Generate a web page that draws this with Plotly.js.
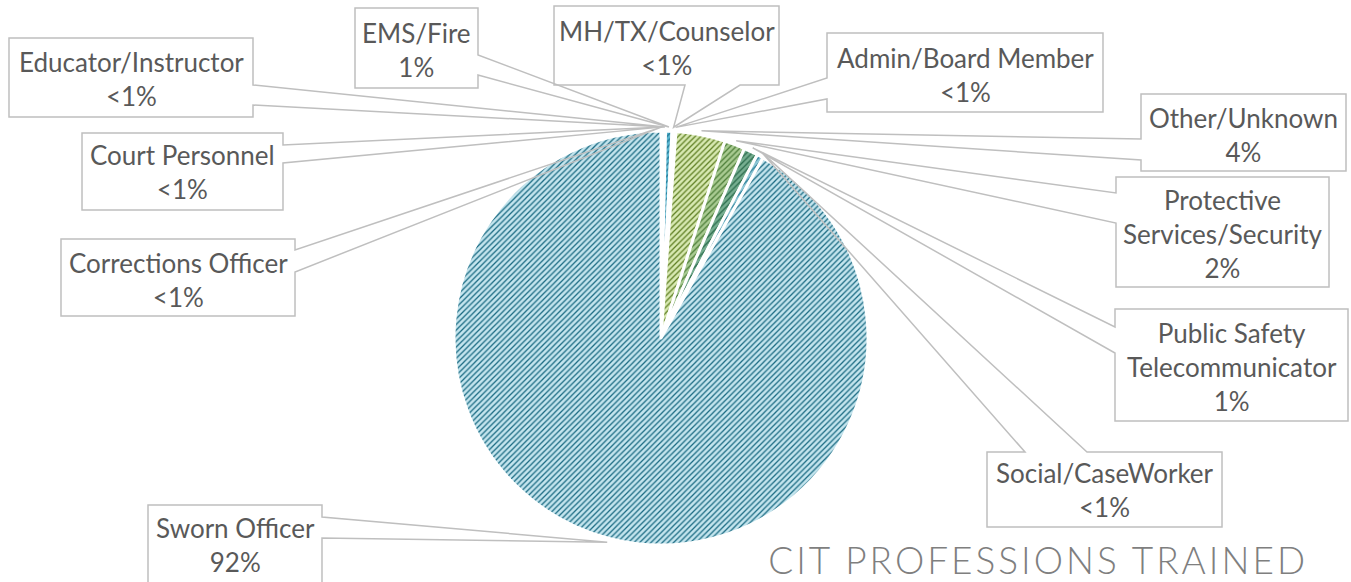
<!DOCTYPE html>
<html>
<head>
<meta charset="utf-8">
<script src="https://cdn.plot.ly/plotly-3.0.1.min.js"></script>
<style>
  body { margin: 0; background: #ffffff; }
  .gtitle { letter-spacing: 3px; }
</style>
</head>
<body>
<div id="chart" style="width:1351px;height:582px;"></div>
<script>
// ---- data ----
const categories = ["Corrections Officer", "Court Personnel", "Educator/Instructor", "EMS/Fire",
  "MH/TX/Counselor", "Admin/Board Member", "Other/Unknown", "Protective Services/Security",
  "Public Safety Telecommunicator", "Social/CaseWorker", "Sworn Officer"];
const values = [0.15, 0.1, 0.1, 0.5, 0.2, 0.1, 3.85, 1.6, 1.1, 0.5, 91.8];
const pctLabels = ["<1%", "<1%", "<1%", "1%", "<1%", "<1%", "4%", "2%", "1%", "<1%", "92%"];
const displayNames = ["Corrections Officer", "Court Personnel", "Educator/Instructor", "EMS/Fire",
  "MH/TX/Counselor", "Admin/Board Member", "Other/Unknown", "Protective<br>Services/Security",
  "Public Safety<br>Telecommunicator", "Social/CaseWorker", "Sworn Officer"];
const bgColors = ["#9fd3e2", "#8ccbdc", "#b3dde8", "#5cb8d2", "#7cc4d8", "#a6d8e5",
  "#d8e9b2", "#a9cb92", "#76ae90", "#8fc7d6", "#c4e5ee"];
const fgColors = ["#2b7f98", "#2b7f98", "#2b7f98", "#1f7390", "#2b7f98", "#2b7f98",
  "#5e7e22", "#4c7d38", "#2a6b4b", "#2b7f98", "#1a6a82"];
const chartTitle = "CIT PROFESSIONS TRAINED";

// ---- layout geometry (pixels) ----
const W = 1351, H = 582;
const CX = 661, CY = 338, R = 207;
const domX = [(CX - R) / W, (CX + R) / W];
const domY = [1 - (CY + R) / H, 1 - (CY - R) / H];

// callout boxes: [x0, y0, x1, y1], side of the pointer, two attach coords along that side, text centre y
const callouts = [
  { box: [61, 239, 295, 316], side: "right", a: [250, 272], ty: 279.5 },
  { box: [82, 133, 283, 210], side: "right", a: [145, 163], ty: 171.5 },
  { box: [9, 38, 253, 117], side: "right", a: [85, 105], ty: 79 },
  { box: [355, 8, 478, 88], side: "right", a: [55, 75], ty: 49.5 },
  { box: [554, 6, 779, 85], side: "bottom", a: [685, 740], ty: 47.5 },
  { box: [827, 33, 1103, 112], side: "left", a: [78, 99], ty: 74.5 },
  { box: [1141, 94, 1346, 171], side: "left", a: [139, 160], ty: 134.5 },
  { box: [1116, 177, 1329, 287], side: "left", a: [193, 223], ty: 233.5 },
  { box: [1115, 309, 1348, 421], side: "left", a: [327, 353], ty: 366.5 },
  { box: [987, 452, 1222, 527], side: "top", a: [1025, 1087], ty: 490 },
  { box: [148, 505, 322, 592], side: "right", a: [517, 538], ty: 545 }
];

const total = values.reduce((s, v) => s + v, 0);
const px = x => x / W;
const py = y => 1 - y / H;

const shapes = [];
const annotations = [];
let cum = 0;
values.forEach((v, i) => {
  const mid = (cum + v / 2) / total * 2 * Math.PI;
  cum += v;
  const k = 1.02;
  const tx = CX + R * k * Math.sin(mid);
  const ty = CY - R * k * Math.cos(mid);
  const c = callouts[i];
  const [x0, y0, x1, y1] = c.box;
  const [a1, a2] = c.a;
  let pts;
  if (c.side === "right") {
    pts = [[x0, y0], [x1, y0], [x1, a1], [tx, ty], [x1, a2], [x1, y1], [x0, y1]];
  } else if (c.side === "left") {
    pts = [[x0, y0], [x1, y0], [x1, y1], [x0, y1], [x0, a2], [tx, ty], [x0, a1]];
  } else if (c.side === "top") {
    pts = [[x0, y0], [a1, y0], [tx, ty], [a2, y0], [x1, y0], [x1, y1], [x0, y1]];
  } else {
    pts = [[x0, y0], [x1, y0], [x1, y1], [a2, y1], [tx, ty], [a1, y1], [x0, y1]];
  }
  const path = "M " + pts.map(p => px(p[0]).toFixed(5) + "," + py(p[1]).toFixed(5)).join(" L ") + " Z";
  shapes.push({
    type: "path", xref: "paper", yref: "paper", path: path,
    line: { color: "#bfbfbf", width: 1.5 }, fillcolor: "rgba(0,0,0,0)", layer: "above"
  });
  annotations.push({
    xref: "paper", yref: "paper",
    x: px((x0 + x1) / 2), y: py(c.ty),
    text: displayNames[i] + "<br>" + pctLabels[i],
    showarrow: false, xanchor: "center", yanchor: "middle", align: "center",
    font: { family: "Lato, 'Open Sans', sans-serif", size: 26, color: "#595959" }
  });
});

const trace = {
  type: "pie",
  labels: categories,
  values: values,
  sort: false,
  direction: "clockwise",
  rotation: 0,
  textinfo: "none",
  hoverinfo: "label+percent",
  domain: { x: domX, y: domY },
  marker: {
    colors: bgColors,
    line: { color: "#ffffff", width: 3 },
    pattern: {
      shape: "/", fgcolor: fgColors, bgcolor: bgColors,
      size: 4, solidity: 0.32, fillmode: "replace"
    }
  }
};

const layout = {
  width: W, height: H,
  margin: { l: 0, r: 0, t: 0, b: 0 },
  showlegend: false,
  paper_bgcolor: "#ffffff",
  title: {
    text: chartTitle,
    font: { family: "Lato, 'Open Sans', sans-serif", size: 37, color: "#7f7f7f", weight: 300 },
    x: 1308 / W, xanchor: "right", xref: "paper",
    y: 1 - 561 / H, yanchor: "middle", yref: "container"
  },
  shapes: shapes,
  annotations: annotations
};

Plotly.newPlot("chart", [trace], layout, { displayModeBar: false, staticPlot: true });
</script>
</body>
</html>
